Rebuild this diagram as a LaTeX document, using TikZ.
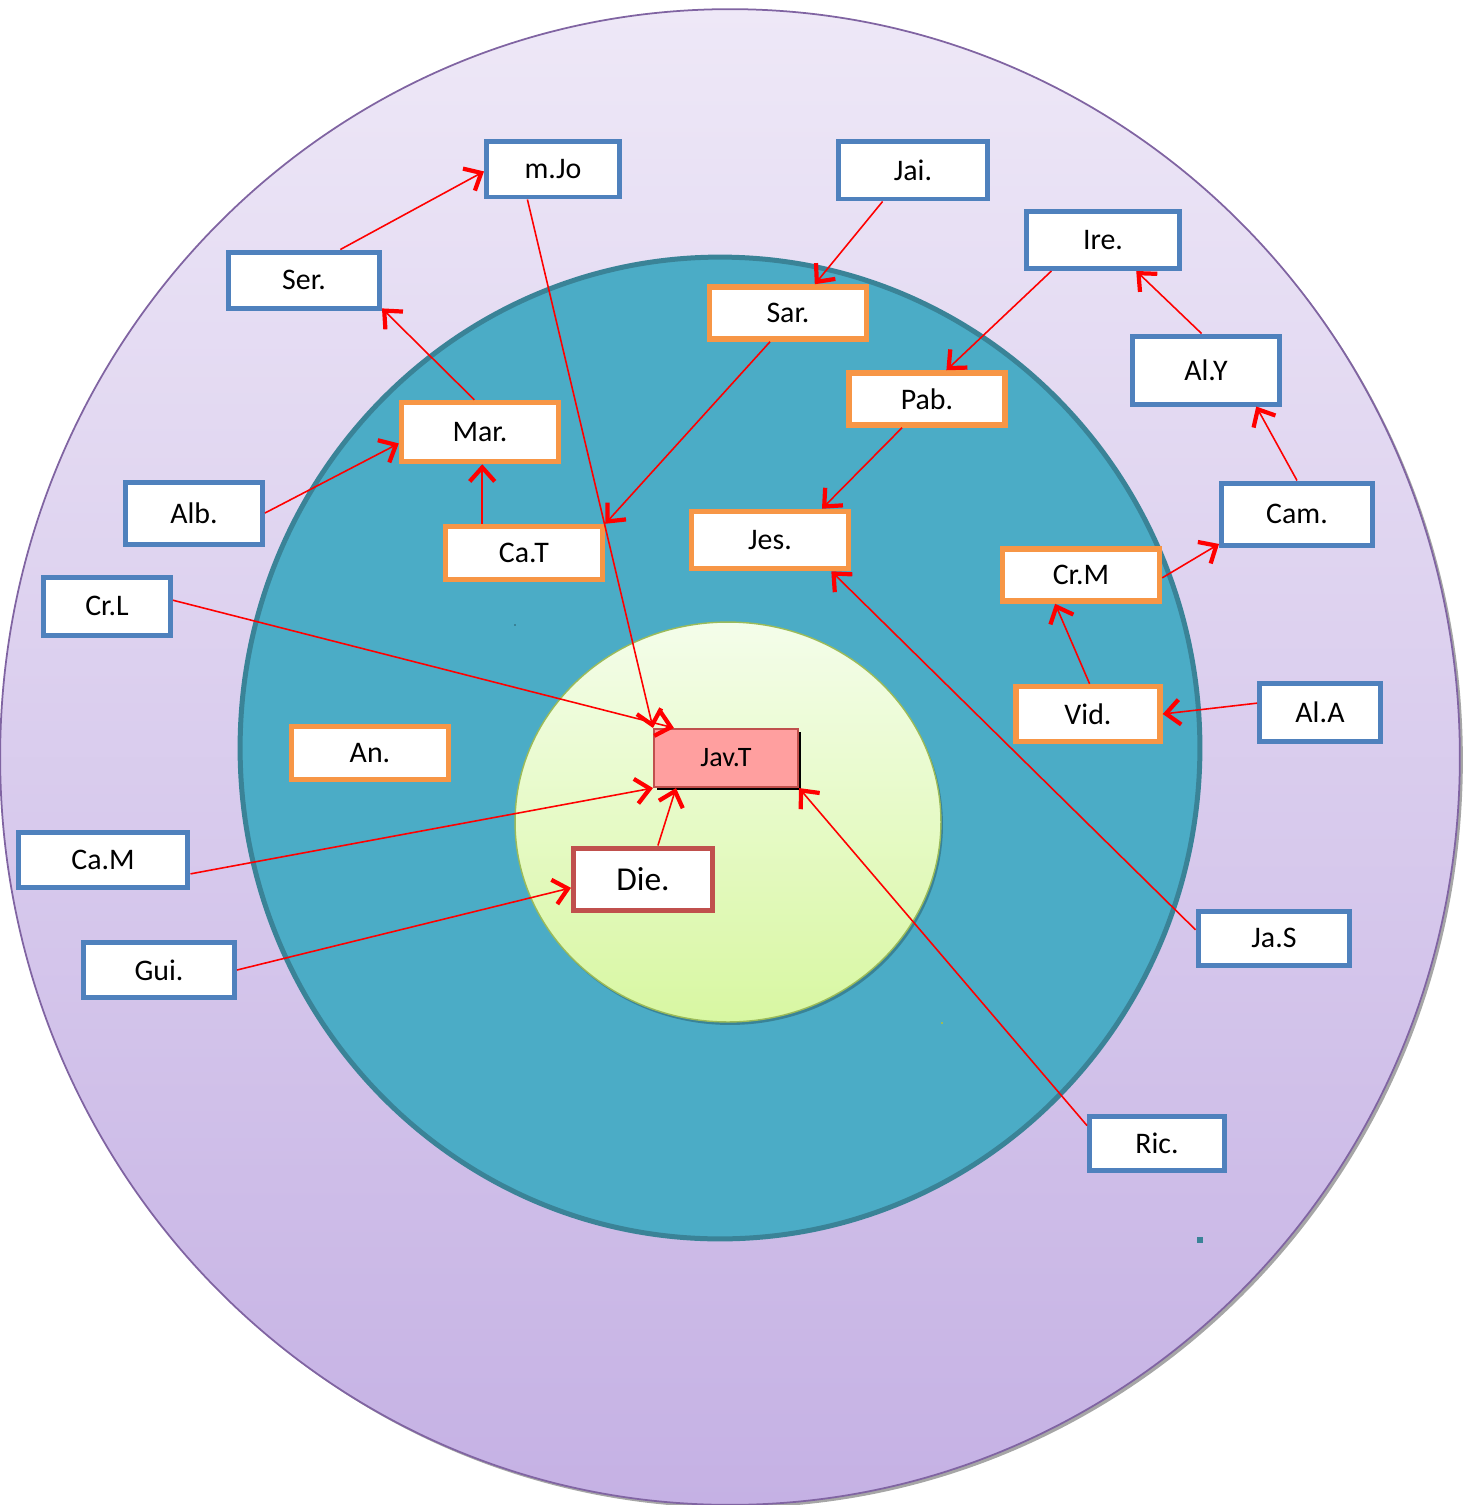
\documentclass[tikz,border=0pt]{standalone}
\usepackage{fontspec}
\setmainfont{Carlito}
\usetikzlibrary{arrows.meta,shadows}
\definecolor{ringline}{HTML}{8064A2}
\definecolor{ringtop}{HTML}{EEE8F7}
\definecolor{ringbot}{HTML}{C5B1E4}
\definecolor{midfill}{HTML}{4BACC6}
\definecolor{midline}{HTML}{3A8397}
\definecolor{coretop}{HTML}{F4FDEA}
\definecolor{corebot}{HTML}{D8F7A2}
\definecolor{coreline}{HTML}{9BBB59}
\definecolor{bluebord}{HTML}{4F81BD}
\definecolor{orangebord}{HTML}{F79646}
\definecolor{redbord}{HTML}{C0504D}
\definecolor{javfill}{HTML}{FF9F9F}

\begin{document}
\begin{tikzpicture}[x=0.02cm, y=-0.02cm,
  pbox/.style={draw, fill=white, inner sep=0pt, font=\fontsize{17pt}{20pt}\selectfont},
  bluebox/.style={pbox, draw=bluebord, line width=0.1cm},
  orangebox/.style={pbox, draw=orangebord, line width=0.11cm},
  redbox/.style={pbox, draw=redbord, line width=0.1cm, font=\fontsize{19pt}{22pt}\selectfont},
  arr/.style={-{Straight Barb[length=0.28cm, width=0.5cm, line width=2.4pt]}, red, line width=0.9pt}
]
  \useasboundingbox (0,0) rectangle (1473,1505);
  % rings
  \fill[gray!70] (733,760) ellipse [x radius=14.6cm, y radius=14.96cm];
  \draw[ringline, line width=1pt, top color=ringtop, bottom color=ringbot] (730,757) ellipse [x radius=14.6cm, y radius=14.96cm];
  \draw[midline, line width=0.1cm, fill=midfill] (720,748) ellipse [x radius=9.6cm, y radius=9.82cm];
  \fill[midline!80!black, opacity=0.6] (730,825) ellipse [x radius=4.26cm, y radius=4.0cm];
  \draw[coreline, line width=0.8pt, top color=coretop, bottom color=corebot] (728,822) ellipse [x radius=4.26cm, y radius=4.0cm];
  \fill[midline] (1197,1237) rectangle (1203,1243);
  \fill[midline] (514,624) rectangle (516,626);
  \fill[coreline] (941,1022) rectangle (943,1024);

  % outer ring
  \node[bluebox, minimum width=2.66cm, minimum height=1.12cm] (mjo) at (553,169) {m.Jo};
  \node[bluebox, minimum width=2.98cm, minimum height=1.16cm] (jai) at (913,170) {Jai.};
  \node[bluebox, minimum width=3.02cm, minimum height=1.12cm] (ser) at (304,280) {Ser.};
  \node[bluebox, minimum width=3.08cm, minimum height=1.14cm] (ire) at (1103,240) {Ire.};
  \node[bluebox, minimum width=2.94cm, minimum height=1.36cm] (aly) at (1206,370) {Al.Y};
  \node[bluebox, minimum width=3.02cm, minimum height=1.24cm] (cam) at (1297,514) {Cam.};
  \node[bluebox, minimum width=2.74cm, minimum height=1.24cm] (alb) at (194,513) {Alb.};
  \node[bluebox, minimum width=2.54cm, minimum height=1.16cm] (crl) at (107,606) {Cr.L};
  \node[bluebox, minimum width=2.42cm, minimum height=1.16cm] (ala) at (1320,712) {Al.A};
  \node[bluebox, minimum width=3.40cm, minimum height=1.10cm] (cm) at (103,860) {Ca.M};
  \node[bluebox, minimum width=3.02cm, minimum height=1.10cm] (gui) at (159,970) {Gui.};
  \node[bluebox, minimum width=3.04cm, minimum height=1.08cm] (jas) at (1274,938) {Ja.S};
  \node[bluebox, minimum width=2.70cm, minimum height=1.08cm] (ric) at (1157,1143) {Ric.};

  % middle ring
  \node[orangebox, minimum width=3.14cm, minimum height=1.04cm] (sar) at (788,313) {Sar.};
  \node[orangebox, minimum width=3.12cm, minimum height=1.04cm] (pab) at (927,399) {Pab.};
  \node[orangebox, minimum width=3.14cm, minimum height=1.18cm] (mar) at (480,432) {Mar.};
  \node[orangebox, minimum width=3.14cm, minimum height=1.06cm] (ct) at (524,553) {Ca.T};
  \node[orangebox, minimum width=3.14cm, minimum height=1.14cm] (jes) at (770,540) {Jes.};
  \node[orangebox, minimum width=3.14cm, minimum height=1.04cm] (crm) at (1081,575) {Cr.M};
  \node[orangebox, minimum width=2.88cm, minimum height=1.10cm] (vid) at (1088,714) {Vid.};
  \node[orangebox, minimum width=3.14cm, minimum height=1.06cm] (an) at (370,753) {An.};

  % core
  \node[redbox, minimum width=2.78cm, minimum height=1.24cm] (die) at (643,879) {Die.};
  \node[pbox, draw=redbord, line width=1.2pt, fill=javfill, minimum width=2.88cm, minimum height=1.16cm,
    drop shadow={shadow xshift=0.06cm, shadow yshift=-0.06cm, fill=black, opacity=1},
    font=\fontsize{16pt}{19pt}\selectfont] (jav) at (726,758) {Jav.T};

  % arrows
  \draw[arr] (ser.40) -- (mjo.182);
  \draw[arr] (mar.100) -- (ser.-20);
  \draw[arr] (alb.east) -- (mar.188);
  \draw[arr] (ct.145) -- (ct.145 |- mar.south);
  \draw[arr] (mjo.-130) -- (jav.north west);
  \draw[arr] (jai.-134) -- (sar.47);
  \draw[arr] (sar.-122) -- (ct.north east);
  \draw[arr] (ire.-149) -- (pab.56);
  \draw[arr] (pab.-131) -- (jes.31);
  \draw[arr] (aly.97) -- (ire.-43);
  \draw[arr] (cam.north) -- (aly.-36);
  \draw[arr] (crm.-2) -- (cam.-159);
  \draw[arr] (vid.87) -- (crm.-132);
  \draw[arr] (ala.172) -- (vid.east);
  \draw[arr] (jas.174) -- (jes.-27);
  \draw[arr] (crl.5) -- (jav.150);
  \draw[arr] (cm.-9) -- (jav.south west);
  \draw[arr] (die.66) -- (jav.-149);
  \draw[arr] (gui.east) -- (die.187);
  \draw[arr] (ric.166) -- (jav.south east);
\end{tikzpicture}
\end{document}
